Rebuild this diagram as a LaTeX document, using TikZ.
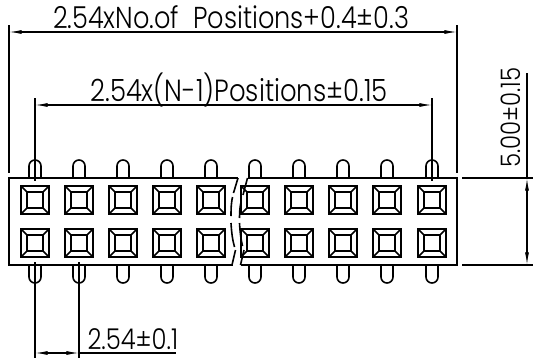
\documentclass[tikz,border=0pt]{standalone}
\usepackage{fontspec}
\usepackage{graphicx}
\setmainfont{Poppins}[UprightFont=* Light]
\usetikzlibrary{arrows.meta}
\tikzset{
  px/.style={x=0.75pt,y=-0.75pt},
  part/.style={line width=1.2pt,line join=miter},
  dimline/.style={line width=0.85pt},
  dimarrows/.style={dimline,{Latex[length=9.5pt,width=3pt]}-{Latex[length=9.5pt,width=3pt]}},
  lbl/.style={inner sep=0pt,outer sep=0pt,anchor=base west,font=\fontsize{17pt}{19pt}\selectfont,text=black},
}
\newcommand{\tallfit}[2]{\resizebox{#1}{!}{\scalebox{1}[1.18]{#2}}}
\begin{document}
\begin{tikzpicture}[px]
\useasboundingbox[fill=white] (0,0) rectangle (533,358);
% pins and contacts
\foreach \c in {35,79,123,167,211,255,299,343,387,432}{
  \draw[part] (\c-6,178) -- (\c-6,166) arc[start angle=180,end angle=360,radius=6] -- (\c+6,178);
  \draw[part] (\c-6,265) -- (\c-6,277) arc[start angle=180,end angle=0,radius=6] -- (\c+6,265);
  \foreach \r in {200,243}{
    \begin{scope}[shift={(\c,\r)}]
      \draw[part] (-14.2,-14.2) rectangle (14.2,14.2);
      \draw[part] (-7.8,-7.8) rectangle (7.8,7.8);
      \draw[part] (-14.2,-14.2) -- (-7.8,-7.8) (14.2,-14.2) -- (7.8,-7.8) (-14.2,14.2) -- (-7.8,7.8) (14.2,14.2) -- (7.8,7.8);
    \end{scope}
  }
}
% housing
\draw[part] (238,178) -- (9,178) -- (9,265) -- (232.5,265);
\draw[part] (247.5,178) -- (457,178) -- (457,265) -- (240.5,265);
% break lines
\draw[part] (238,178) -- (233.5,193);
\draw[part] (232.5,197) .. controls (231.5,202) and (231,206) .. (231,216);
\draw[part] (231,223) .. controls (231.5,232) and (232.5,240) .. (234.5,247);
\draw[part] (235.5,250) -- (232,265);
\draw[part] (247.5,178) -- (243,195);
\draw[part] (241,202) .. controls (240,207) and (239.5,211) .. (239.5,218);
\draw[part] (239.5,223) .. controls (240,232) and (241,240) .. (242.5,246);
\draw[part] (244,250) -- (240.5,265);
% named ends
\coordinate (oL) at (9,25); \coordinate (oLb) at (9,173);
\coordinate (oR) at (457,25); \coordinate (oRb) at (457,173);
\coordinate (aL) at (9,32); \coordinate (aR) at (457,32);
\coordinate (iL) at (35,98); \coordinate (iLb) at (35,181);
\coordinate (iR) at (432,98); \coordinate (iRb) at (432,181);
\coordinate (bL) at (35,105); \coordinate (bR) at (432,105);
\coordinate (hT) at (462,178); \coordinate (hTe) at (533,178);
\coordinate (hB) at (462,265); \coordinate (hBe) at (533,265);
\coordinate (vT) at (527,73); \coordinate (vA) at (527,178); \coordinate (vB) at (527,265);
\coordinate (p1) at (35,262); \coordinate (p1e) at (35,358);
\coordinate (p2) at (79,262); \coordinate (p2e) at (79,358);
\coordinate (d1) at (35,353); \coordinate (d2) at (79,353); \coordinate (d3) at (176,353);
% dimensions
\draw[dimline] (oL) -- (oLb) (oR) -- (oRb) (iL) -- (iLb) (iR) -- (iRb);
\draw[dimarrows] (aL) -- (aR);
\draw[dimarrows] (bL) -- (bR);
\draw[dimline] (hT) -- (hTe) (hB) -- (hBe) (vT) -- (vA);
\draw[dimarrows] (vA) -- (vB);
\draw[dimline] (p1) -- (p1e) (p2) -- (p2e);
\draw[dimarrows] (d1) -- (d2);
\draw[dimline] (d2) -- (d3);
% labels
\node[lbl] (t1) at (53,28) {\tallfit{267pt}{2.54xNo.of\ \ Positions+0.4±0.3}};
\node[lbl] (t2) at (90.5,101) {\tallfit{223pt}{2.54x(N-1)Positions±0.15}};
\node[lbl] (t3) at (87.5,349) {\tallfit{68pt}{2.54±0.1}};
\node[lbl,rotate=90] (t4) at (520,167.5) {\tallfit{75pt}{5.00±0.15}};
\end{tikzpicture}
\end{document}
